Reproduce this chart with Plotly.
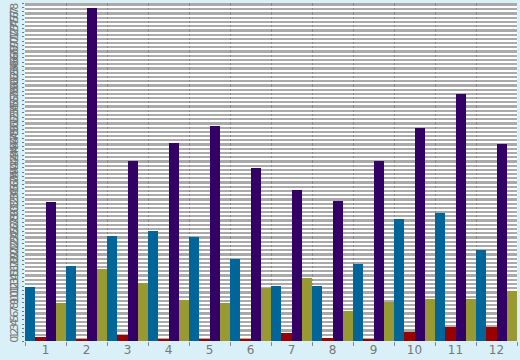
import plotly.graph_objects as go

categories = ["1", "2", "3", "4", "5", "6", "7", "8", "9", "10", "11", "12"]
blue_vals = [12.8, 17.8, 24.9, 26.0, 24.6, 19.4, 13.0, 13.0, 18.2, 28.9, 30.3, 21.6]
red_vals = [1.0, 0.5, 1.4, 0.3, 0.3, 0.3, 1.9, 0.7, 0.3, 2.2, 3.2, 3.4]
purple_vals = [32.9, 78.8, 42.6, 46.9, 50.9, 40.9, 35.7, 33.1, 42.6, 50.4, 58.5, 46.6]
olive_vals = [9.0, 17.0, 13.7, 9.7, 9.0, 12.5, 14.9, 7.1, 9.3, 9.9, 9.9, 11.8]
y_ticks = list(range(0, 81))

series = [
    ("A", blue_vals, "#006699"),
    ("B", red_vals, "#990000"),
    ("C", purple_vals, "#330066"),
    ("D", olive_vals, "#999933"),
]

fig = go.Figure()
for name, vals, color in series:
    fig.add_trace(go.Bar(x=categories, y=vals, name=name,
                         marker=dict(color=color, line=dict(width=0))))

fig.update_layout(
    width=520, height=360,
    margin=dict(l=25, r=3, t=3, b=19, autoexpand=False),
    paper_bgcolor="#d9f0f8",
    plot_bgcolor="#aaaaaa",
    barmode="group", bargap=0, bargroupgap=0,
    showlegend=False,
    font=dict(family="DejaVu Sans", color="#777777"),
    xaxis=dict(
        type="category", tickson="boundaries", ticks="outside", ticklen=4,
        tickcolor="#888888", showgrid=True, gridcolor="#888888", gridwidth=1,
        tickfont=dict(size=12, color="#777777"), showline=False, automargin=False,
    ),
    yaxis=dict(
        range=[0, 80], tickvals=y_ticks, ticktext=[str(v) for v in y_ticks],
        showgrid=True, gridcolor="#ffffff", gridwidth=2,
        ticks="outside", ticklen=2, tickcolor="#777777",
        tickangle=-90, tickfont=dict(size=11, color="#777777"),
        zeroline=False, showline=False, automargin=False,
    ),
)

fig.write_html(
    "out.html",
    config={"displayModeBar": False},
    post_script="document.body.style.margin='0';document.body.style.background='#d9f0f8';",
)
